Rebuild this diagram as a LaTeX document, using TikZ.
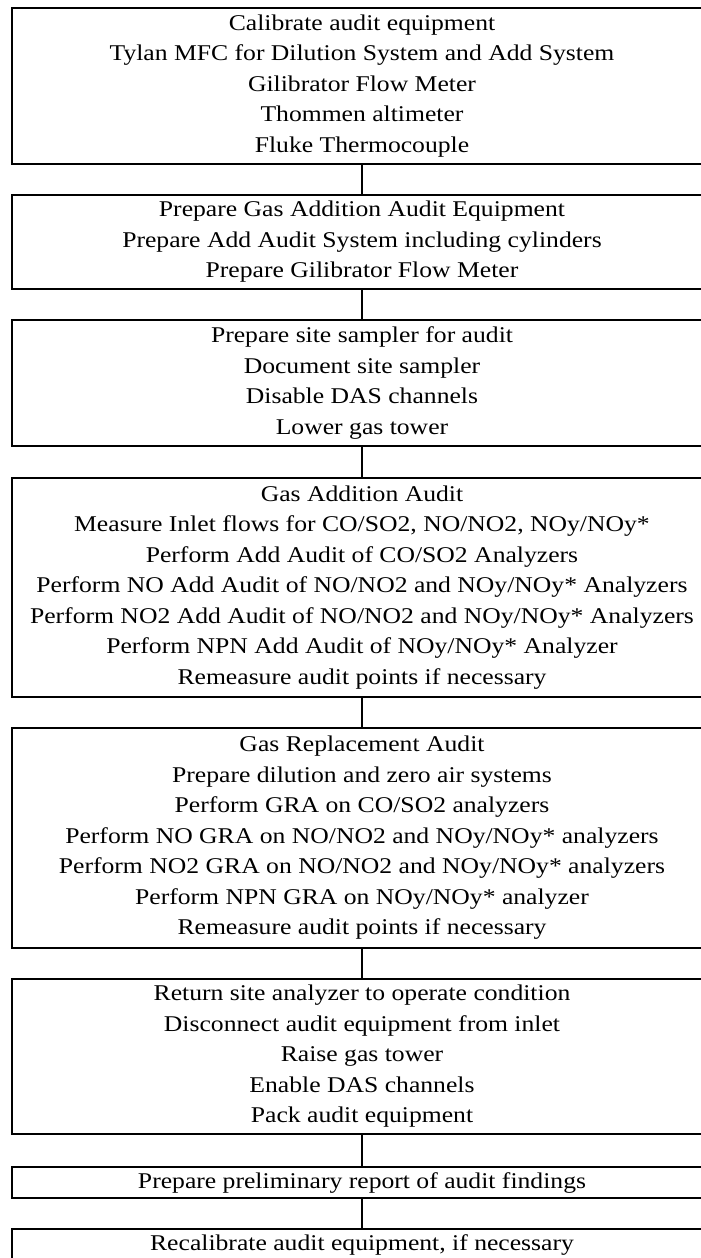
\documentclass[tikz,border=0pt]{standalone}
\usepackage{fontspec}
\setmainfont{Liberation Serif}[FakeStretch=1.14]
\begin{document}
\begin{tikzpicture}[x=1pt,y=-1pt,
  box/.style={draw, line width=2pt, minimum width=700pt, inner sep=0pt, outer sep=0pt,
    anchor=north, align=center, font=\fontsize{22.5}{30.5}\selectfont},
  link/.style={line width=2pt}]
\useasboundingbox (0,0) rectangle (701,1258);
\clip (0,0) rectangle (701,1258);
\node[box, minimum height=156pt] (b1) at (362,8) {Calibrate audit equipment\\Tylan MFC for Dilution System and Add System\\Gilibrator Flow Meter\\Thommen altimeter\\Fluke Thermocouple};
\node[box, minimum height=94pt] (b2) at (362,195) {Prepare Gas Addition Audit Equipment\\Prepare Add Audit System including cylinders\\Prepare Gilibrator Flow Meter};
\node[box, minimum height=126pt] (b3) at (362,320) {Prepare site sampler for audit\\Document site sampler\\Disable DAS channels\\Lower gas tower};
\node[box, minimum height=219pt] (b4) at (362,478) {Gas Addition Audit\\Measure Inlet flows for CO/SO2, NO/NO2, NOy/NOy*\\Perform Add Audit of CO/SO2 Analyzers\\Perform NO Add Audit of NO/NO2 and NOy/NOy* Analyzers\\Perform NO2 Add Audit of NO/NO2 and NOy/NOy* Analyzers\\Perform NPN Add Audit of NOy/NOy* Analyzer\\Remeasure audit points if necessary};
\node[box, minimum height=220pt] (b5) at (362,728) {Gas Replacement Audit\\Prepare dilution and zero air systems\\Perform GRA on CO/SO2 analyzers\\Perform NO GRA on NO/NO2 and NOy/NOy* analyzers\\Perform NO2 GRA on NO/NO2 and NOy/NOy* analyzers\\Perform NPN GRA on NOy/NOy* analyzer\\Remeasure audit points if necessary};
\node[box, minimum height=155pt] (b6) at (362,979) {Return site analyzer to operate condition\\Disconnect audit equipment from inlet\\Raise gas tower\\Enable DAS channels\\Pack audit equipment};
\node[box, minimum height=31pt] (b7) at (362,1167) {Prepare preliminary report of audit findings};
\node[box, minimum height=32pt] (b8) at (362,1229) {Recalibrate audit equipment, if necessary};
\draw[link] (b1.south) -- (b2.north);
\draw[link] (b2.south) -- (b3.north);
\draw[link] (b3.south) -- (b4.north);
\draw[link] (b4.south) -- (b5.north);
\draw[link] (b5.south) -- (b6.north);
\draw[link] (b6.south) -- (b7.north);
\draw[link] (b7.south) -- (b8.north);
\end{tikzpicture}
\end{document}
